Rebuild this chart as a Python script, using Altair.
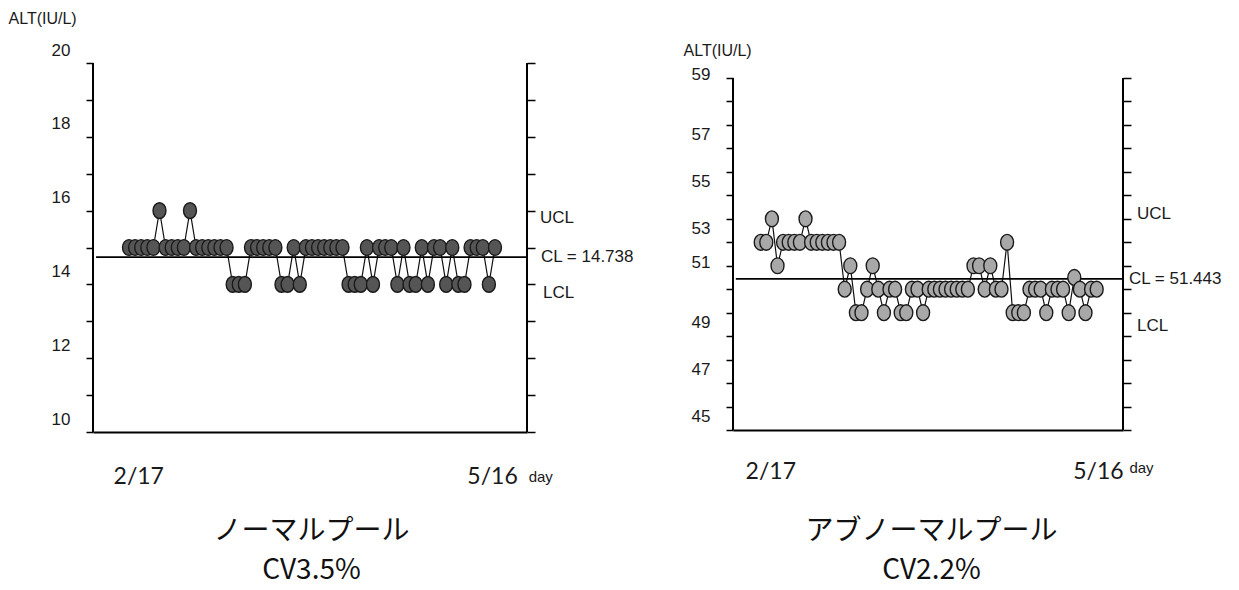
import altair as alt
import pandas as pd

# ---------------- data ----------------
LEFT_VALUES = [15, 15, 15, 15, 15, 16, 15, 15, 15, 15,
               16, 15, 15, 15, 15, 15, 15, 14, 14, 14,
               15, 15, 15, 15, 15, 14, 14, 15, 14, 15,
               15, 15, 15, 15, 15, 15, 14, 14, 14, 15,
               14, 15, 15, 15, 14, 15, 14, 14, 15, 14,
               15, 15, 14, 15, 14, 14, 15, 15, 15, 14,
               15]
RIGHT_VALUES = [53, 53, 54, 52, 53, 53, 53, 53, 54, 53,
                53, 53, 53, 53, 53, 51, 52, 50, 50, 51,
                52, 51, 50, 51, 51, 50, 50, 51, 51, 50,
                51, 51, 51, 51, 51, 51, 51, 51, 52, 52,
                51, 52, 51, 51, 53, 50, 50, 50, 51, 51,
                51, 50, 51, 51, 51, 50, 51.5, 51, 50, 51,
                51]
LEFT_CL = 14.738
RIGHT_CL = 51.443
LIMIT_LABELS = ["UCL", "CL = 14.738", "LCL"]
RIGHT_LIMIT_LABELS = ["UCL", "CL = 51.443", "LCL"]
LEFT_LIMIT_VALUES = [15.8, LEFT_CL, 13.77]
RIGHT_LIMIT_VALUES = [54.2, RIGHT_CL, 49.42]
LEFT_Y_TICKS = list(range(10, 21))
RIGHT_Y_TICKS = list(range(45, 61))
DATE_LABELS = ["2/17", "5/16", "day"]
LEFT_DATE_IDX = [1.6, 59.6, 67.5]
RIGHT_DATE_IDX = [1.8, 60.3, 68.0]
LEFT_CAPTION = ["ノーマルプール", "CV3.5%"]
RIGHT_CAPTION = ["アブノーマルプール", "CV2.2%"]
Y_TITLE = "ALT(IU/L)"

ELLIPSE = "M0,-1A0.82,1 0 1,1 0,1A0.82,1 0 1,1 0,-1Z"
LATIN = "Liberation Sans"
CJK = "Noto Sans CJK JP"


def panel(values, cl, limit_labels, limit_values, limit_dx, y_dom, axis_top,
          y_ticks, label_expr, label_offset, x_dom, w, h, fill,
          date_idx, date_y, day_y, caption, cap_x, cap_y, title_x, title_y):
    df = pd.DataFrame({"i": list(range(len(values))), "v": values})
    xs = alt.Scale(domain=x_dom, nice=False, zero=False)
    ys = alt.Scale(domain=y_dom, nice=False, zero=False)

    left_axis = alt.Axis(
        orient="left", values=y_ticks, grid=False, domain=False,
        tickColor="black", tickWidth=1.5, tickSize=7,
        labelExpr=label_expr, labelFont=LATIN, labelFontSize=17,
        labelColor="#1a1a1a", labelPadding=16, labelOffset=label_offset,
        labelOverlap=False, labelFlush=False, labelBound=False,
        title=Y_TITLE, titleAngle=0, titleAlign="left", titleBaseline="middle",
        titleX=title_x, titleY=title_y, titleFont=LATIN, titleFontSize=16,
        titleFontWeight="normal", titleColor="#1a1a1a")
    right_axis = alt.Axis(
        orient="right", values=y_ticks, grid=False, domain=False,
        tickColor="black", tickWidth=1.5, tickSize=8, labels=False, title=None)
    x_axis = alt.Axis(
        orient="bottom", domain=True, domainColor="black", domainWidth=2, ticks=False,
        labels=False, grid=False, title=caption, titleX=cap_x, titleY=cap_y,
        titleAlign="center", titleBaseline="middle", titleAngle=0,
        titleFont=CJK, titleFontSize=28, titleFontWeight="normal",
        titleLineHeight=39, titleColor="#111")

    base = alt.Chart(df)
    line = base.mark_line(color="#111", strokeWidth=1.2).encode(
        x=alt.X("i:Q", scale=xs, axis=None),
        y=alt.Y("v:Q", scale=ys, axis=right_axis))
    pts = base.mark_point(shape=ELLIPSE, filled=True, fill=fill, stroke="#1a1a1a",
                          strokeWidth=1.4, size=250, opacity=1).encode(
        x=alt.X("i:Q", scale=xs, axis=x_axis),
        y=alt.Y("v:Q", scale=ys, axis=left_axis))

    frame = pd.DataFrame({"x0": [x_dom[0]], "x1": [x_dom[1]], "y0": [y_dom[0]],
                          "y1": [axis_top], "cl": [cl], "c0": [x_dom[0] + 0.5]})
    fb = alt.Chart(frame)
    ax_l = fb.mark_rule(color="black", strokeWidth=2).encode(
        x=alt.X("x0:Q", scale=xs, axis=None), y=alt.Y("y0:Q", scale=ys, axis=None), y2="y1")
    ax_r = fb.mark_rule(color="black", strokeWidth=2).encode(
        x=alt.X("x1:Q", scale=xs, axis=None), y=alt.Y("y0:Q", scale=ys, axis=None), y2="y1")
    cl_rule = fb.mark_rule(color="black", strokeWidth=1.8).encode(
        x=alt.X("c0:Q", scale=xs, axis=None), x2="x1",
        y=alt.Y("cl:Q", scale=ys, axis=None))

    layers = [line, cl_rule, ax_l, ax_r, pts]
    for lab, val, dx in zip(limit_labels, limit_values, limit_dx):
        t = alt.Chart(pd.DataFrame({"x": [x_dom[1]], "y": [val], "t": [lab]})).mark_text(
            align="left", baseline="middle", dx=dx, font=LATIN, fontSize=17,
            color="#1a1a1a").encode(
            x=alt.X("x:Q", scale=xs, axis=None), y=alt.Y("y:Q", scale=ys, axis=None),
            text="t:N")
        layers.append(t)
    for lab, idx in zip(DATE_LABELS, date_idx):
        small = lab == "day"
        t = alt.Chart(pd.DataFrame({"x": [idx], "t": [lab]})).mark_text(
            align="center", baseline="middle", font="Lato" if not small else LATIN,
            fontSize=15 if small else 23, color="#1a1a1a").encode(
            x=alt.X("x:Q", scale=xs, axis=None),
            y=alt.value(day_y if small else date_y), text="t:N")
        layers.append(t)

    return alt.layer(*layers).resolve_axis(
        x="independent", y="independent").properties(width=w, height=h)


left = panel(LEFT_VALUES, LEFT_CL, LIMIT_LABELS, LEFT_LIMIT_VALUES, [13, 14, 16],
             [10, 20], 20, LEFT_Y_TICKS,
             "datum.value % 2 == 0 ? datum.label : ''", -13,
             [-5.9, 65.25], 434, 369, "#555555",
             LEFT_DATE_IDX, 414, 414, LEFT_CAPTION, 218, 99, -85, -45)

right = panel(RIGHT_VALUES, RIGHT_CL, RIGHT_LIMIT_LABELS, RIGHT_LIMIT_VALUES, [14, 6, 14],
              [45, 60.64], 60, RIGHT_Y_TICKS,
              "datum.value % 2 == 1 ? datum.label : ''",
              {"condition": {"test": "datum.value == 51 || datum.value == 59", "value": -27},
               "value": -14},
              [-4.95, 64.7], 390, 367, "#a8a8a8",
              RIGHT_DATE_IDX, 409, 405, RIGHT_CAPTION, 198, 101, -50, -13)

chart = alt.hconcat(left, right, spacing=206, bounds="flush").resolve_scale(
    x="independent", y="independent").properties(
    padding={"left": 0, "top": 2, "right": 0, "bottom": 8}).configure_view(strokeOpacity=0)

chart.save("out.html", embed_options={"renderer": "svg", "actions": False})
